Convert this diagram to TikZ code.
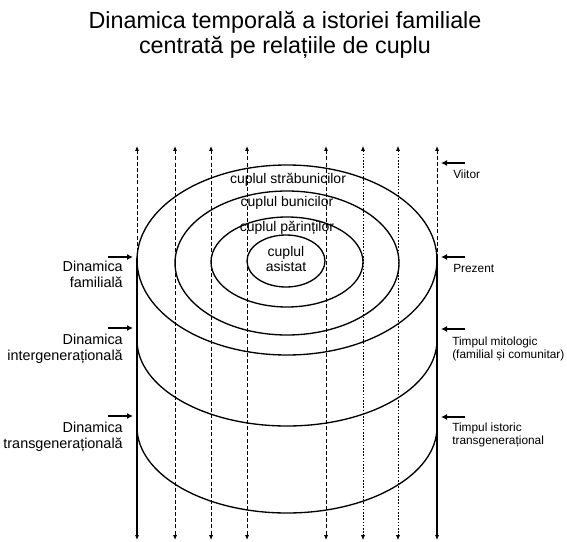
\documentclass[tikz,border=0pt]{standalone}
\usepackage{fontspec}
\setmainfont{Liberation Sans}
\usetikzlibrary{arrows.meta}

\tikzset{
  ring/.style={line width=1pt},
  timeline/.style={line width=0.7pt,dash pattern={on 3pt off 1.6pt}},
  fineline/.style={line width=0.5pt,dash pattern={on 1.2pt off 1.2pt}},
  tipup/.style={-{Latex[length=3.6pt,width=3pt]}},
  tipboth/.style={{Latex[length=3.6pt,width=3pt]}-{Latex[length=3.6pt,width=3pt]}},
  pointer/.style={line width=1pt,-{Latex[length=4.5pt,width=4.5pt]}},
  lbl/.style={font=\fontsize{10.5}{11.4}\selectfont,inner sep=0pt},
  side/.style={font=\fontsize{10.8}{11.6}\selectfont,inner sep=0pt},
  note/.style={font=\fontsize{8.9}{9.5}\selectfont,inner sep=0pt},
}

\begin{document}
\begin{tikzpicture}[x=0.75pt,y=0.75pt,yscale=-1,xscale=1]
        \useasboundingbox (0,0) rectangle (567,542);
        % Title
        \node (title) [anchor=north,align=center,font=\fontsize{17.5}{19}\selectfont,inner sep=0pt] at (285,11) {Dinamica temporală a istoriei familiale\\centrată pe relațiile de cuplu};
        %Shape: Ellipse (outer)
        \draw [ring] (287,260) ellipse (150 and 95);
        %Shape: Ellipse
        \draw [ring] (287,263) ellipse (112 and 72);
        %Shape: Ellipse
        \draw [ring] (287,262) ellipse (76 and 45);
        %Shape: Ellipse (inner)
        \draw [ring] (286,261) ellipse (39 and 26);
        %Shape: Arc (intergenerational layer)
        \draw [ring] (137,340) arc [start angle=180,end angle=0,x radius=150,y radius=86];
        %Shape: Arc (transgenerational layer)
        \draw [ring] (137,427) arc [start angle=180,end angle=0,x radius=150,y radius=86];
        % Time lines
        \coordinate (t1) at (137,146); \coordinate (m1) at (137,258); \coordinate (b1) at (137,540);
        \coordinate (t2) at (175,146); \coordinate (b2) at (175,540);
        \coordinate (t3) at (211,146); \coordinate (b3) at (211,540);
        \coordinate (t4) at (247,146); \coordinate (b4) at (247,540);
        \coordinate (t5) at (326,146); \coordinate (b5) at (326,540);
        \coordinate (t6) at (363,146); \coordinate (b6) at (363,540);
        \coordinate (t7) at (398,146); \coordinate (b7) at (398,540);
        \coordinate (t8) at (437,146); \coordinate (m8) at (437,258); \coordinate (b8) at (437,540);
        %Straight Lines
        \draw [timeline,tipup] (m1) -- (t1);
        \draw [line width=0.8pt,tipup] (m1) -- (b1);
        \draw [timeline,tipboth] (t2) -- (b2);
        \draw [timeline,tipboth] (t3) -- (b3);
        \draw [timeline,tipboth] (t4) -- (b4);
        \draw [timeline,tipboth] (t5) -- (b5);
        \draw [fineline,tipboth] (t6) -- (b6);
        \draw [fineline,tipboth] (t7) -- (b7);
        \draw [timeline,tipup] (m8) -- (t8);
        \draw [line width=0.8pt,tipup] (m8) -- (b8);
        % Text Node
        \node (strab) [lbl] at (288,180) {cuplul străbunicilor};
        \node (bunic) [lbl] at (287,203) {cuplul bunicilor};
        \node (parin) [lbl] at (287,228) {cuplul părinților};
        \node (asist) [lbl,align=center] at (286,259) {cuplul\\asistat};
        % Left side
        \node (fam) [side,anchor=north east,align=right] at (123,261) {Dinamica\\familială};
        \node (inter) [side,anchor=north east,align=right] at (123,334) {Dinamica\\intergenerațională};
        \node (trans) [side,anchor=north east,align=right] at (123,422) {Dinamica\\transgenerațională};
        \coordinate (a1) at (108,257); \coordinate (e1) at (133,257);
        \coordinate (a2) at (108,328); \coordinate (e2) at (133,328);
        \coordinate (a3) at (108,416); \coordinate (e3) at (133,416);
        \draw [pointer] (a1) -- (e1);
        \draw [pointer] (a2) -- (e2);
        \draw [pointer] (a3) -- (e3);
        % Right side
        \node (viit) [note,anchor=north west] at (453,170) {Viitor};
        \node (prez) [note,anchor=north west] at (453,264) {Prezent};
        \node (mito) [note,anchor=north west,align=left] at (452,337) {Timpul mitologic\\(familial și comunitar)};
        \node (isto) [note,anchor=north west,align=left] at (452,423) {Timpul istoric\\transgenerațional};
        \coordinate (a4) at (465,163); \coordinate (e4) at (441,163);
        \coordinate (a5) at (465,257); \coordinate (e5) at (441,257);
        \coordinate (a6) at (465,329); \coordinate (e6) at (441,329);
        \coordinate (a7) at (465,417); \coordinate (e7) at (441,417);
        \draw [pointer] (a4) -- (e4);
        \draw [pointer] (a5) -- (e5);
        \draw [pointer] (a6) -- (e6);
        \draw [pointer] (a7) -- (e7);
\end{tikzpicture}
\end{document}
